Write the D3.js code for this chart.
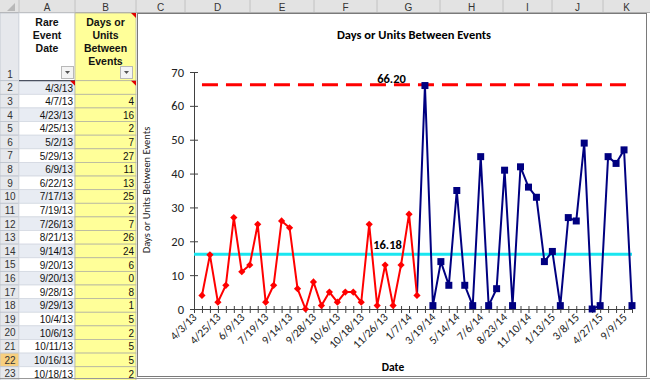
<!DOCTYPE html>
<html>
<head>
<meta charset="utf-8">
<script src="https://cdn.jsdelivr.net/npm/d3@7"></script>
<style>
  body { margin: 0; background: #ffffff; }
  svg { display: block; }
</style>
</head>
<body>
<div id="sheet"></div>
<script>
// datos
const tableDates = ["4/3/13", "4/7/13", "4/23/13", "4/25/13", "5/2/13", "5/29/13", "6/9/13", "6/22/13",
  "7/17/13", "7/19/13", "7/26/13", "8/21/13", "9/14/13", "9/20/13", "9/20/13", "9/28/13", "9/29/13",
  "10/4/13", "10/6/13", "10/11/13", "10/16/13", "10/18/13"];

// serie roja (fase 1), categorias 1..28
const redValues = [4, 16, 2, 7, 27, 11, 13, 25, 2, 7, 26, 24, 6, 0, 8, 1, 5, 2, 5, 5, 2, 25, 1, 13, 1, 13, 28, 4];
// serie azul (fase 2), categorias 29..55
const blueValues = [66, 1, 14, 7, 35, 7, 1, 45, 1, 6, 41, 1, 42, 36, 33, 14, 17, 1, 27, 26, 49, 0, 1, 45, 43, 47, 1];

const tickLabels = ["4/3/13", "4/25/13", "6/9/13", "7/19/13", "9/14/13", "9/28/13", "10/6/13", "10/18/13",
  "11/26/13", "1/7/14", "3/19/14", "5/14/14", "7/6/14", "8/23/14", "11/10/14", "1/13/15", "3/8/15",
  "4/27/15", "9/9/15"];
const yTicks = [0, 10, 20, 30, 40, 50, 60, 70];

const ucl = 66.20;
const meanValue = 16.18;
const nCats = 1 + redValues.length + blueValues.length; // 56

const svg = d3.select("#sheet").append("svg").attr("width", 650).attr("height", 380);

// ---------- hoja de calculo ----------
const cols = [
  { name: "A", x0: 19, x1: 75 }, { name: "B", x0: 75, x1: 136 }, { name: "C", x0: 136, x1: 185 },
  { name: "D", x0: 185, x1: 250 }, { name: "E", x0: 250, x1: 314 }, { name: "F", x0: 314, x1: 377 },
  { name: "G", x0: 377, x1: 440 }, { name: "H", x0: 440, x1: 503 }, { name: "I", x0: 503, x1: 552 },
  { name: "J", x0: 552, x1: 603 }, { name: "K", x0: 603, x1: 650 }
];
const headH = 13, row1Bottom = 80.7, rowH = 13.62;
const rowTop = r => r === 1 ? headH : row1Bottom + (r - 2) * rowH;
const rowBottom = r => r === 1 ? row1Bottom : rowTop(r) + rowH;
const rows = d3.range(1, 24);

svg.append("rect").attr("width", 650).attr("height", 380).attr("fill", "#ffffff");

// encabezados de columna
const ch = svg.append("g");
ch.append("rect").attr("x", 0).attr("y", 0).attr("width", 650).attr("height", headH).attr("fill", "#e3e3e3");
ch.append("path").attr("d", "M15,3L15,11L7,11Z").attr("fill", "#b8b8b8");
ch.selectAll("line.sep").data(cols).enter().append("line")
  .attr("x1", d => d.x0).attr("x2", d => d.x0).attr("y1", 0).attr("y2", headH)
  .attr("stroke", "#c2c2c2");
ch.selectAll("text").data(cols).enter().append("text")
  .attr("x", d => (d.x0 + d.x1) / 2).attr("y", 10.5).attr("text-anchor", "middle")
  .style("font-family", "Liberation Sans, Arial, sans-serif").style("font-size", "10px")
  .attr("fill", "#333").text(d => d.name);
ch.append("line").attr("x1", 0).attr("x2", 650).attr("y1", headH - 0.5).attr("y2", headH - 0.5).attr("stroke", "#b0b0b0");

// encabezados de fila
const rh = svg.append("g");
rh.selectAll("rect").data(rows).enter().append("rect")
  .attr("x", 0).attr("y", d => rowTop(d)).attr("width", 19).attr("height", d => rowBottom(d) - rowTop(d))
  .attr("fill", d => d === 22 ? "#f7cf7f" : "#e6e8ec").attr("stroke", "#bcc2cc").attr("stroke-width", 0.8);
rh.selectAll("text").data(rows).enter().append("text")
  .attr("x", 10).attr("y", d => rowBottom(d) - 3).attr("text-anchor", "middle")
  .style("font-family", "Liberation Sans, Arial, sans-serif").style("font-size", "10px")
  .attr("fill", "#333").text(d => d);

// celdas A y B
const cells = svg.append("g");
cells.selectAll("rect.a").data(rows).enter().append("rect")
  .attr("x", 19).attr("y", d => rowTop(d)).attr("width", 56).attr("height", d => rowBottom(d) - rowTop(d))
  .attr("fill", d => (d > 1 && d % 2 === 0) ? "#e8ecf3" : "#ffffff").attr("stroke", "#d4d9e2").attr("stroke-width", 0.8);
cells.selectAll("rect.b").data(rows).enter().append("rect")
  .attr("x", 75).attr("y", d => rowTop(d)).attr("width", 61).attr("height", d => rowBottom(d) - rowTop(d))
  .attr("fill", "#ffff99").attr("stroke", "#b5b5a0").attr("stroke-width", 0.8);
cells.append("line").attr("x1", 19).attr("x2", 75).attr("y1", row1Bottom).attr("y2", row1Bottom)
  .attr("stroke", "#4a5060").attr("stroke-width", 1.2);

const hdrA = ["Rare", "Event", "Date"];
const hdrB = ["Days or", "Units", "Between", "Events"];
[[hdrA, 47], [hdrB, 105.5]].forEach(([lines, cx]) => {
  cells.selectAll(null).data(lines).enter().append("text")
    .attr("x", cx).attr("y", (d, i) => 25.5 + i * 13.3).attr("text-anchor", "middle")
    .style("font-family", "Liberation Sans, Arial, sans-serif").style("font-size", "10.5px")
    .style("font-weight", "bold").attr("fill", "#111").text(d => d);
});
// botones de filtro
[61, 120].forEach(x => {
  cells.append("rect").attr("x", x + 0.5).attr("y", 66.5).attr("width", 12).attr("height", 12)
    .attr("fill", "#f4f4f4").attr("stroke", "#b8b8b8");
  cells.append("path").attr("d", `M${x + 4},${71}L${x + 9},${71}L${x + 6.5},${74}Z`).attr("fill", "#555");
});

const dataRows = tableDates.map((d, i) => ({ row: i + 2, date: d, value: i === 0 ? "" : redValues[i - 1] }));
cells.selectAll("text.date").data(dataRows).enter().append("text")
  .attr("x", 73).attr("y", d => rowTop(d.row) + 10.8).attr("text-anchor", "end")
  .style("font-family", "Liberation Sans, Arial, sans-serif").style("font-size", "10px")
  .attr("fill", "#111").text(d => d.date);
cells.selectAll("text.val").data(dataRows).enter().append("text")
  .attr("x", 134).attr("y", d => rowTop(d.row) + 10.8).attr("text-anchor", "end")
  .style("font-family", "Liberation Sans, Arial, sans-serif").style("font-size", "10px")
  .attr("fill", "#111").text(d => d.value);
// indicadores de comentario
[[136, headH], [75, row1Bottom], [136, row1Bottom]].forEach(([x, y]) => {
  cells.append("path").attr("d", `M${x - 5},${y}L${x},${y}L${x},${y + 5}Z`).attr("fill", "#e00000");
});

// ---------- grafico ----------
const chart = svg.append("g");
chart.append("rect").attr("x", 137.5).attr("y", 13.5).attr("width", 509).attr("height", 363)
  .attr("fill", "#ffffff").attr("stroke", "#7a7a7a");
svg.append("line").attr("x1", 0).attr("x2", 650).attr("y1", 378.5).attr("y2", 378.5).attr("stroke", "#999");

const chartFont = "Carlito, Calibri, Lato, sans-serif";

const x = d3.scalePoint().domain(d3.range(nCats)).range([194, 632]);
const y = d3.scaleLinear().domain([0, 70]).range([309, 72]);

chart.append("text").attr("x", 414).attr("y", 39).attr("text-anchor", "middle")
  .style("font-family", chartFont).style("font-size", "12.5px").style("font-weight", "bold")
  .attr("fill", "#000").text("Days or Units Between Events");

// eje Y
const yAxis = chart.append("g").attr("transform", "translate(194,0)")
  .call(d3.axisLeft(y).tickValues(yTicks).tickSize(0).tickPadding(10));
yAxis.selectAll(".tick").append("line").attr("x1", -4).attr("x2", 4).attr("stroke", "#404040");
yAxis.select(".domain").attr("stroke", "#404040");
yAxis.selectAll("text").style("font-family", chartFont).style("font-size", "12.5px").attr("fill", "#222");

// eje X
const xAxis = chart.append("g").attr("transform", "translate(0,309)")
  .call(d3.axisBottom(x).tickSize(0).tickFormat(i => i % 3 === 0 ? tickLabels[i / 3] : ""));
xAxis.select(".domain").attr("stroke", "#404040");
xAxis.selectAll(".tick").append("line").attr("y1", -3).attr("y2", 4).attr("stroke", "#404040");
xAxis.selectAll("text")
  .style("font-family", chartFont).style("font-size", "11.5px").attr("fill", "#222")
  .attr("text-anchor", "end").attr("dy", null)
  .attr("transform", "translate(3,9) rotate(-45)")
  .attr("y", 0).attr("x", 0);

chart.append("text").attr("x", 150).attr("y", 190).attr("text-anchor", "middle")
  .attr("transform", "rotate(-90,150,190)")
  .style("font-family", chartFont).style("font-size", "10.5px").attr("fill", "#222")
  .text("Days or Units Between Events");
chart.append("text").attr("x", 393).attr("y", 371).attr("text-anchor", "middle")
  .style("font-family", chartFont).style("font-size", "11.5px").style("font-weight", "bold")
  .attr("fill", "#000").text("Date");

// lineas de control
chart.append("line").attr("x1", x(1)).attr("x2", x(nCats - 1))
  .attr("y1", y(ucl)).attr("y2", y(ucl))
  .attr("stroke", "#ff0000").attr("stroke-width", 3).attr("stroke-dasharray", "16,8");
chart.append("line").attr("x1", x(0)).attr("x2", x(nCats - 1))
  .attr("y1", y(meanValue)).attr("y2", y(meanValue))
  .attr("stroke", "#19e6f0").attr("stroke-width", 3);
chart.append("text").attr("x", x(23)).attr("y", y(ucl) - 2)
  .style("font-family", chartFont).style("font-size", "12.5px").style("font-weight", "bold")
  .attr("fill", "#000").text(ucl.toFixed(2));
chart.append("text").attr("x", x(22) + 4).attr("y", y(meanValue) - 5)
  .style("font-family", chartFont).style("font-size", "12.5px").style("font-weight", "bold")
  .attr("fill", "#000").text(meanValue.toFixed(2));

const redData = redValues.map((v, i) => ({ i: i + 1, v }));
const blueData = blueValues.map((v, i) => ({ i: i + 1 + redValues.length, v }));
const line = d3.line().x(d => x(d.i)).y(d => y(d.v));

// la linea azul arranca desde el ultimo punto rojo
chart.append("path").datum([redData[redData.length - 1]].concat(blueData))
  .attr("d", line).attr("fill", "none").attr("stroke", "#000080").attr("stroke-width", 2);
chart.selectAll("path.bm").data(blueData).enter().append("path")
  .attr("d", d3.symbol(d3.symbolSquare, 49))
  .attr("transform", d => `translate(${x(d.i)},${y(d.v)})`)
  .attr("fill", "#000080");

chart.append("path").datum(redData)
  .attr("d", line).attr("fill", "none").attr("stroke", "#ff0000").attr("stroke-width", 2);
chart.selectAll("path.rm").data(redData).enter().append("path")
  .attr("d", d3.symbol(d3.symbolSquare, 26))
  .attr("transform", d => `translate(${x(d.i)},${y(d.v)}) rotate(45)`)
  .attr("fill", "#ff0000");
</script>
</body>
</html>
